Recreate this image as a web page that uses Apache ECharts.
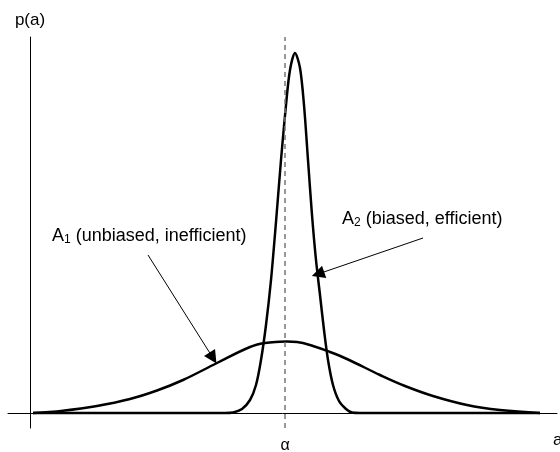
<!DOCTYPE html>
<html>
<head>
<meta charset="utf-8">
<script src="https://cdn.jsdelivr.net/npm/echarts@6/dist/echarts.min.js"></script>
<style>
  html, body { margin: 0; padding: 0; background: #fff; }
  #chart { width: 560px; height: 452px; }
</style>
</head>
<body>
<div id="chart"></div>
<script>
// curve points, [a, p(a)] in plot units
var a1Curve = [[3, 0], [33, 2.3], [67, 7], [100, 14], [127, 22.5], [153, 33], [187, 50],
  [220, 66], [235, 70], [250, 71.3], [257, 71.5], [267, 71], [283, 67], [300, 61], [317, 54],
  [350, 38], [375, 27], [403, 17], [437, 8], [470, 3], [510, 0]];
var a2Curve = [[3, 0], [195, 0], [203, 0.5], [212, 4], [220, 13], [226, 28], [231, 53], [236, 88],
  [241, 133], [246, 191], [251, 253], [256, 308], [260, 343], [265, 360], [270, 345], [274, 308],
  [278, 253], [282, 198], [286, 153], [290, 118], [294, 83], [298, 53], [303, 28], [309, 12],
  [316, 4], [322, 0.5], [330, 0], [510, 0]];
var alphaValue = 255;
// arrows: [from, to]
var a1Arrow = [[118, 158], [183, 55]];
var a2Arrow = [[393, 175], [288, 139]];

var font = 'Liberation Sans, Arial, sans-serif';
var chart = echarts.init(document.getElementById('chart'));

chart.setOption({
  animation: false,
  grid: { left: 8, right: 3, top: 37, bottom: 24, outerBoundsMode: 'none' },
  xAxis: {
    type: 'value', min: -22, max: 527,
    axisLine: { onZero: true, lineStyle: { color: '#000', width: 1 } },
    axisTick: { show: false }, axisLabel: { show: false }, splitLine: { show: false },
    name: 'a', nameLocation: 'end', nameGap: -4,
    nameTextStyle: { color: '#000', fontSize: 17, fontFamily: font, verticalAlign: 'top', lineHeight: 54 }
  },
  yAxis: {
    type: 'value', min: -15, max: 376,
    axisLine: { onZero: true, lineStyle: { color: '#000', width: 1 } },
    axisTick: { show: false }, axisLabel: { show: false }, splitLine: { show: false },
    name: 'p(a)', nameLocation: 'end', nameGap: 8,
    nameTextStyle: { color: '#000', fontSize: 17, fontFamily: font }
  },
  series: [{
    name: 'A1', type: 'line', data: a1Curve, smooth: 0.4, symbol: 'none',
    lineStyle: { color: '#000', width: 2.5 },
    markLine: {
      silent: true, symbol: 'none',
      lineStyle: { color: '#777', width: 1.5, type: [5, 4] },
      label: { show: true, position: 'start', formatter: 'α', distance: 10, color: '#000', fontSize: 16, fontFamily: font },
      data: [[{ coord: [alphaValue, -15] }, { coord: [alphaValue, 376] }]]
    }
  }, {
    name: 'A2', type: 'line', data: a2Curve, smooth: 0.3, symbol: 'none',
    lineStyle: { color: '#000', width: 2.5 },
    markLine: {
      silent: true, symbol: ['none', 'triangle'], symbolSize: 13,
      lineStyle: { color: '#000', width: 1, type: 'solid' },
      label: { show: false },
      data: [
        [{ coord: a1Arrow[0] }, { coord: a1Arrow[1] }],
        [{ coord: a2Arrow[0] }, { coord: a2Arrow[1] }]
      ]
    }
  }],
  graphic: [{
    type: 'text', left: 52, top: 227,
    style: {
      text: '{n|A}{s|1}{n| (unbiased, inefficient)}',
      rich: {
        n: { fontSize: 18, fontFamily: font, fill: '#000', lineHeight: 20 },
        s: { fontSize: 12, fontFamily: font, fill: '#000', lineHeight: 20, verticalAlign: 'bottom' }
      }
    }
  }, {
    type: 'text', left: 342, top: 210,
    style: {
      text: '{n|A}{s|2}{n| (biased, efficient)}',
      rich: {
        n: { fontSize: 18, fontFamily: font, fill: '#000', lineHeight: 20 },
        s: { fontSize: 12, fontFamily: font, fill: '#000', lineHeight: 20, verticalAlign: 'bottom' }
      }
    }
  }]
});
</script>
</body>
</html>
